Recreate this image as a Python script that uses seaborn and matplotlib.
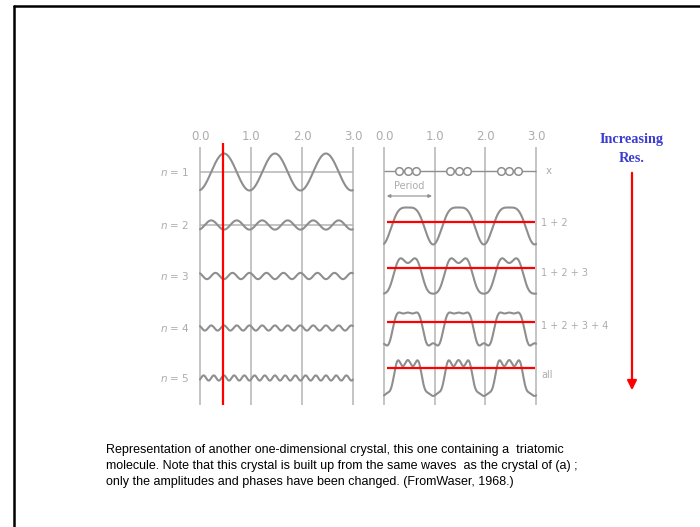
import numpy as np
import pandas as pd
import matplotlib
matplotlib.use("Agg")
import matplotlib.pyplot as plt
from matplotlib.lines import Line2D
import seaborn as sns

# Fourier waves: cos(2*pi*n*(x - centre)), signed amplitude
harmonics = [1, 2, 3, 4, 5]
amplitudes = [1.0, -0.25, -0.17, 0.14, 0.14]
centre = 0.47
row_labels = ["$n$ = 1", "$n$ = 2", "$n$ = 3", "$n$ = 4", "$n$ = 5"]
sum_labels = ["1 + 2", "1 + 2 + 3", "1 + 2 + 3 + 4", "all"]
sum_terms = [2, 3, 4, 5]
atom_pos = [0.30, 0.47, 0.64]
cells = [0, 1, 2]
axis_ticks = [0, 1, 2, 3]
tick_labels = ["0.0", "1.0", "2.0", "3.0"]
caption = [
    "Representation of another one-dimensional crystal, this one containing a  triatomic",
    "molecule. Note that this crystal is built up from the same waves  as the crystal of (a) ;",
    "only the amplitudes and phases have been changed. (FromWaser, 1968.)",
]

# layout (pixels of the 700x527 page)
W, H = 700, 527
left_rows = [172, 225, 276, 328, 378]
right_rows = [226, 276, 329, 378]
atom_row = 171
SCALE = 18.5
GRAY = "#8e8e8e"
LIGHT = "#b4b4b4"
TXT = "#acacac"

sns.set_style("white")
fig = plt.figure(figsize=(7, 5.27), dpi=100)

def panel(x0_px, unit_px):
    lo, hi = -0.2, 3.2
    left = (x0_px + lo * unit_px) / W
    width = (hi - lo) * unit_px / W
    ax = fig.add_axes([left, 1 - 410 / H, width, 267 / H])
    ax.set_xlim(lo, hi)
    ax.set_ylim(410, 143)
    ax.xaxis.tick_top()
    ax.set_xticks(axis_ticks, tick_labels)
    ax.tick_params(axis="x", length=0, pad=0, labelsize=8.5, labelcolor=TXT)
    ax.set_yticks([])
    sns.despine(ax=ax, left=True, bottom=True, top=True, right=True)
    ax.vlines(axis_ticks, 147, 405, color=LIGHT, lw=1.1)
    return ax

xs = np.linspace(0, 3, 900)

def wave(n, a):
    return a * np.cos(2 * np.pi * n * (xs - centre))

# ---- left panel: the individual waves
axl = panel(200, 51)
frames = []
for n, a, row in zip(harmonics, amplitudes, left_rows):
    frames.append(pd.DataFrame({"x": xs, "y": row - SCALE * wave(n, a), "n": n}))
left_df = pd.concat(frames)
axl.hlines(left_rows[:2], 0, 3, color=LIGHT, lw=1.1)
sns.lineplot(data=left_df, x="x", y="y", units="n", estimator=None, sort=False,
             color=GRAY, lw=1.5, ax=axl)
for lab, row in zip(row_labels, left_rows):
    axl.text(-0.5, row, lab, ha="center", va="center", fontsize=7.5, color=TXT)
axl.vlines(0.45, 140, 405, color="red", lw=1.6)
axl.set_xlabel("")
axl.set_ylabel("")

# ---- right panel: the partial sums
axr = panel(384, 50.7)
frames = []
for k, row in zip(sum_terms, right_rows):
    w = sum(wave(n, a) for n, a in zip(harmonics[:k], amplitudes[:k]))
    mid = (w.max() + w.min()) / 2
    frames.append(pd.DataFrame({"x": xs, "y": row - SCALE * (w - mid), "k": k}))
right_df = pd.concat(frames)
sns.lineplot(data=right_df, x="x", y="y", units="k", estimator=None, sort=False,
             color=GRAY, lw=1.5, ax=axr)
axr.hlines(atom_row, 0, 3, color=GRAY, lw=1.0)
atoms = pd.DataFrame({"x": [c + p for c in cells for p in atom_pos], "y": atom_row})
sns.scatterplot(data=atoms, x="x", y="y", s=30, facecolor="white", edgecolor=GRAY,
                linewidth=1.1, ax=axr, zorder=3)
axr.text(3.25, atom_row, "x", ha="center", va="center", fontsize=7.5, color=TXT)
axr.annotate("", xy=(0, 196), xytext=(1, 196),
             arrowprops=dict(arrowstyle="<|-|>", color=GRAY, lw=0.8, mutation_scale=5))
axr.text(0.5, 186, "Period", ha="center", va="center", fontsize=7, color=TXT)
for lab, row in zip(sum_labels, right_rows):
    axr.text(3.1, row - 3, lab, ha="left", va="center", fontsize=7, color=TXT)
axr.hlines([221.7, 267.7, 321.7, 367.7], 0.06, 2.98, color="red", lw=1.6)
axr.set_xlabel("")
axr.set_ylabel("")

# ---- annotation on the right
fig.text(632 / W, 1 - 140 / H, "Increasing", ha="center", va="center", color="#3c3cd0",
         fontsize=10.3, fontweight="bold", family="Liberation Serif")
fig.text(632 / W, 1 - 159 / H, "Res.", ha="center", va="center", color="#3c3cd0",
         fontsize=10.3, fontweight="bold", family="Liberation Serif")
fig.add_artist(matplotlib.patches.FancyArrowPatch(
    (632 / W, 1 - 170 / H), (632 / W, 1 - 393 / H), transform=fig.transFigure,
    arrowstyle="-|>", color="red", lw=1.6, mutation_scale=14))

# ---- caption
for i, line in enumerate(caption):
    fig.text(106 / W, 1 - (450 + 16 * i) / H, line, ha="left", va="center",
             fontsize=9, family="Liberation Sans", color="black")

# ---- slide frame
fig.add_artist(Line2D([14 / W, 14 / W], [0, 1 - 6 / H], transform=fig.transFigure, color="black", lw=1.8))
fig.add_artist(Line2D([14 / W, 1], [1 - 6 / H, 1 - 6 / H], transform=fig.transFigure, color="black", lw=1.8))

fig.savefig("out.png", dpi=100)
